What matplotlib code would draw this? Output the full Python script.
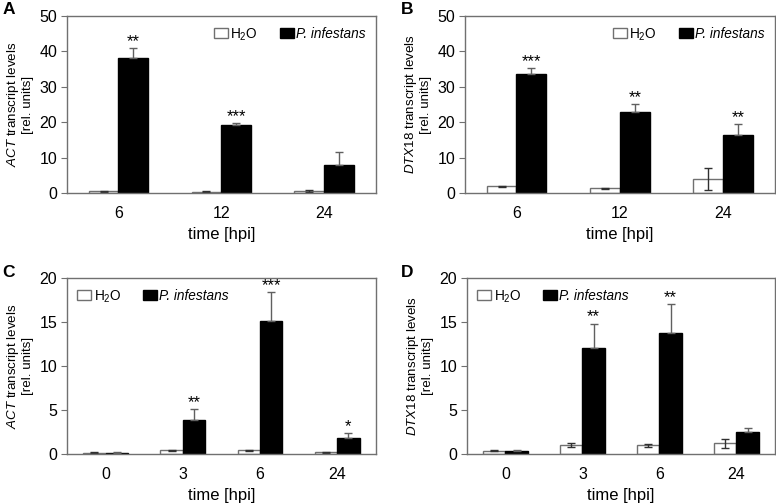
import numpy as np
import matplotlib.pyplot as plt
from matplotlib.patches import Patch

plt.rcParams['font.family'] = ['Liberation Sans', 'DejaVu Sans']
plt.rcParams['mathtext.fontset'] = 'custom'
plt.rcParams['mathtext.rm'] = 'Liberation Sans'
plt.rcParams['mathtext.it'] = 'Liberation Sans:italic'

# panel A: ACT, 6/12/24 hpi
a_times = ["6", "12", "24"]
a_h2o = [0.5, 0.3, 0.5]
a_h2o_err = [0.2, 0.15, 0.3]
a_pi = [38.0, 19.2, 8.0]
a_pi_err = [2.9, 0.5, 3.6]
a_stars = ["**", "***", ""]

# panel B: DTX18, 6/12/24 hpi
b_times = ["6", "12", "24"]
b_h2o = [1.9, 1.3, 4.0]
b_h2o_err = [0.1, 0.1, 3.1]
b_pi = [33.6, 22.9, 16.3]
b_pi_err = [1.6, 2.1, 3.1]
b_stars = ["***", "**", "**"]

# panel C: ACT, 0/3/6/24 hpi
c_times = ["0", "3", "6", "24"]
c_h2o = [0.15, 0.42, 0.4, 0.2]
c_h2o_err = [0.04, 0.05, 0.04, 0.05]
c_pi = [0.15, 3.87, 15.1, 1.78]
c_pi_err = [0.05, 1.2, 3.3, 0.6]
c_stars = ["", "**", "***", "*"]

# panel D: DTX18, 0/3/6/24 hpi
d_times = ["0", "3", "6", "24"]
d_h2o = [0.38, 0.99, 1.0, 1.2]
d_h2o_err = [0.05, 0.25, 0.15, 0.5]
d_pi = [0.38, 12.0, 13.7, 2.5]
d_pi_err = [0.05, 2.8, 3.3, 0.5]
d_stars = ["", "**", "**", ""]

fig = plt.figure(figsize=(7.76, 5.03), dpi=100)

panels = [
    ("A", [0.0863, 0.6163, 0.398, 0.352], a_times, a_h2o, a_h2o_err, a_pi, a_pi_err, a_stars,
     "ACT", 50, 10, "upper right"),
    ("B", [0.599, 0.6163, 0.3995, 0.352], b_times, b_h2o, b_h2o_err, b_pi, b_pi_err, b_stars,
     "DTX18", 50, 10, "upper right"),
    ("C", [0.0863, 0.0974, 0.398, 0.350], c_times, c_h2o, c_h2o_err, c_pi, c_pi_err, c_stars,
     "ACT", 20, 5, "upper left"),
    ("D", [0.6018, 0.0974, 0.3969, 0.350], d_times, d_h2o, d_h2o_err, d_pi, d_pi_err, d_stars,
     "DTX18", 20, 5, "upper left"),
]
letter_pos = {"A": (0.003, 0.997), "B": (0.517, 0.997), "C": (0.003, 0.473), "D": (0.517, 0.473)}

w = 0.29
edge = "#707070"
for letter, rect, times, h2o, h2o_err, pi, pi_err, stars, gene, ymax, ystep, loc in panels:
    ax = fig.add_axes(rect)
    x = np.arange(len(times))
    ax.bar(x - w / 2, h2o, w, color="white", edgecolor=edge, linewidth=1,
           yerr=h2o_err, ecolor="#303030", capsize=3, error_kw=dict(elinewidth=1, capthick=1))
    ax.bar(x + w / 2, pi, w, color="black", edgecolor="black", linewidth=1,
           yerr=[np.zeros(len(pi)), pi_err], ecolor="#606060", capsize=3,
           error_kw=dict(elinewidth=1, capthick=1))
    for i, s in enumerate(stars):
        if s:
            ax.text(x[i] + w / 2, pi[i] + pi_err[i] - ymax * 0.005, s, ha="center", va="bottom",
                    fontsize=12)
    ax.set_xlim(-0.5, len(times) - 0.5)
    ax.set_ylim(0, ymax)
    ax.set_yticks(range(0, ymax + 1, ystep))
    ax.set_xticks(x)
    ax.set_xticklabels(times)
    ax.tick_params(axis="x", length=0, labelsize=11.5, pad=9)
    ax.tick_params(axis="y", length=4, labelsize=11.5, color=edge, direction="out", pad=3)
    for sp in ax.spines.values():
        sp.set_color(edge)
        sp.set_linewidth(1)
    ax.set_xlabel("time [hpi]", fontsize=12, labelpad=5)
    ax.set_ylabel("$\\mathit{" + gene + "}$ transcript levels\n[rel. units]", fontsize=9.6,
                  labelpad=4, linespacing=1.1)
    handles = [Patch(facecolor="white", edgecolor=edge, label="H$_2$O"),
               Patch(facecolor="black", edgecolor="black", label="P. infestans")]
    leg = ax.legend(handles=handles, loc=loc, ncol=2, frameon=False, fontsize=9.8,
                    handlelength=1.05, handleheight=0.75, handletextpad=0.15, columnspacing=1.6,
                    borderaxespad=0.35)
    leg.get_texts()[1].set_fontstyle("italic")
    lx, ly = letter_pos[letter]
    fig.text(lx, ly, letter, fontsize=12.5, fontweight="bold", ha="left", va="top")

fig.savefig("out.png", dpi=100)
